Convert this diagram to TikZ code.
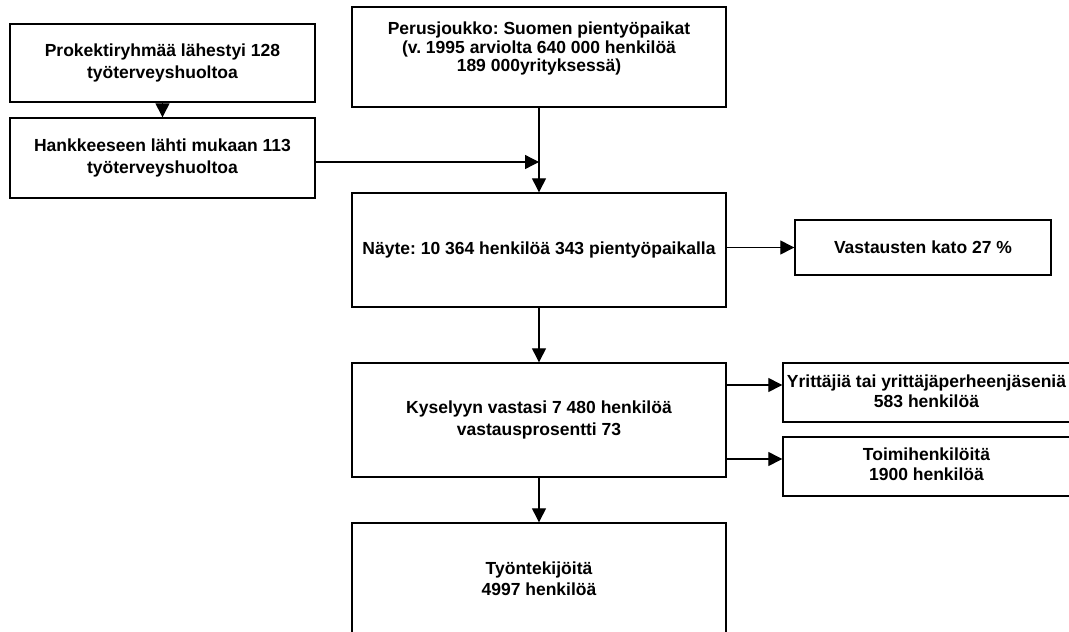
\documentclass[tikz,border=0pt]{standalone}
\usepackage{fontspec}
\setmainfont{Liberation Sans}
\usetikzlibrary{arrows.meta,calc}
\frenchspacing
\tikzset{
  box/.style={draw=black, line width=1.4pt, rectangle, inner sep=0pt, align=center,
    font=\bfseries\fontsize{17.5}{21.5}\selectfont},
  tight/.style={font=\bfseries\fontsize{17.5}{19.5}\selectfont},
  txt/.style={inner sep=0pt, align=center, font=\bfseries\fontsize{17.5}{18.5}\selectfont},
  arr/.style={draw=black, line width=1.3pt, -{Triangle[length=14pt,width=14pt]}}
}
\begin{document}
\begin{tikzpicture}[x=1pt,y=-1pt]
\useasboundingbox (0,0) rectangle (1069,632);
\fill[white] (0,0) rectangle (1069,632);
\clip (0,0) rectangle (1069,632);
% left column
\node[box, minimum width=305pt, minimum height=78pt] (A) at (162.5,63)
  {Prokektiryhmää lähestyi 128\\työterveyshuoltoa};
\node[box, minimum width=305pt, minimum height=80pt] (B) at (162.5,158)
  {Hankkeeseen lähti mukaan 113\\työterveyshuoltoa};
% main column
\node[box, minimum width=374pt, minimum height=100pt] (P) at (539,57) {};
\node[txt] (Pt) at (539,48.5)
  {Perusjoukko: Suomen pientyöpaikat\\(v. 1995 arviolta 640 000 henkilöä\\189 000yrityksessä)};
\node[box, minimum width=374pt, minimum height=114pt] (N) at (539,250)
  {Näyte: 10 364 henkilöä 343 pientyöpaikalla};
\node[box, minimum width=374pt, minimum height=114pt] (K) at (539,420)
  {Kyselyyn vastasi 7 480 henkilöä\\vastausprosentti 73};
\node[box, minimum width=374pt, minimum height=111pt] (T) at (539,578.5)
  {Työntekijöitä\\4997 henkilöä};
% right column
\node[box, minimum width=256pt, minimum height=55pt] (V) at (923,247.5)
  {Vastausten kato 27 \%};
\node[box, minimum width=289pt, minimum height=59pt] (Y) at (927.5,392.5) {};
\node[txt, tight] (Yt) at (926.5,391.5)
  {Yrittäjiä tai yrittäjäperheenjäseniä\\583 henkilöä};
\node[box, minimum width=289pt, minimum height=59pt] (H) at (927.5,466.5) {};
\node[txt, tight] (Ht) at (926.5,464)
  {Toimihenkilöitä\\1900 henkilöä};
% connectors
\draw[arr] (A.south) -- (B.north);
\coordinate (Bo) at ([yshift=-4pt]B.east);
\coordinate (J) at (P.south |- Bo);
\draw[arr] (Bo) -- (J);
\draw[arr] (P.south) -- (N.north);
\draw[arr] (V.west -| N.east) -- (V.west);
\draw[arr] (N.south) -- (K.north);
\coordinate (Ya) at ([yshift=7.5pt]Y.west);
\coordinate (Ha) at ([yshift=7.5pt]H.west);
\draw[arr] (K.east |- Ya) -- (Ya);
\draw[arr] (K.east |- Ha) -- (Ha);
\draw[arr] (K.south) -- (T.north);
\end{tikzpicture}
\end{document}
